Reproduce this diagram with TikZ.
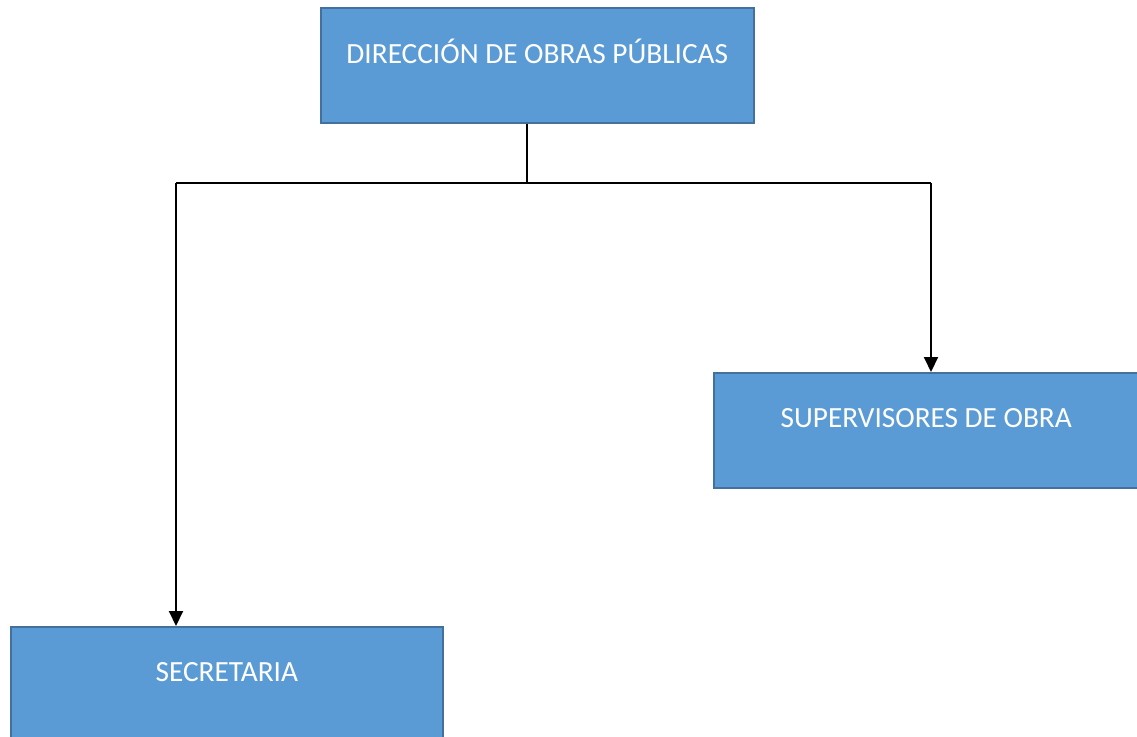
\documentclass[tikz,border=0pt]{standalone}
\usepackage{fontspec}
\setmainfont{Carlito}
\usetikzlibrary{arrows.meta}
\definecolor{boxfill}{HTML}{5B9BD5}
\definecolor{boxline}{HTML}{41719C}
\tikzset{
  orgbox/.style={draw=boxline, line width=1.6pt, fill=boxfill, text=white, inner sep=0pt,
    font=\fontsize{29.3}{34}\selectfont, anchor=north west},
  thin link/.style={line width=1.2pt, black},
  arrow link/.style={line width=2pt, black, -{Triangle[length=15pt,width=14pt]}}
}
\begin{document}
\begin{tikzpicture}[x=1pt,y=-1pt]
\useasboundingbox (0,0) rectangle (1137,736);
\node[orgbox, minimum width=433pt, text height=56pt, text depth=59pt] (dir) at (320,7) {DIRECCIÓN DE OBRAS PÚBLICAS};
\node[orgbox, minimum width=425pt, text height=55pt, text depth=60pt] (sup) at (713,372) {SUPERVISORES DE OBRA};
\node[orgbox, minimum width=432pt, text height=55pt, text depth=60pt] (sec) at (10,626) {SECRETARIA};
\coordinate (j) at (527,183);
\coordinate (jl) at (176,183);
\coordinate (jr) at (931,183);
\draw[thin link] (dir.south -| j) -- (j);
\draw[thin link] (jl) -- (jr);
\draw[arrow link] (jl) -- (sec.north -| jl);
\draw[arrow link] (jr) -- (sup.north -| jr);
\end{tikzpicture}
\end{document}
